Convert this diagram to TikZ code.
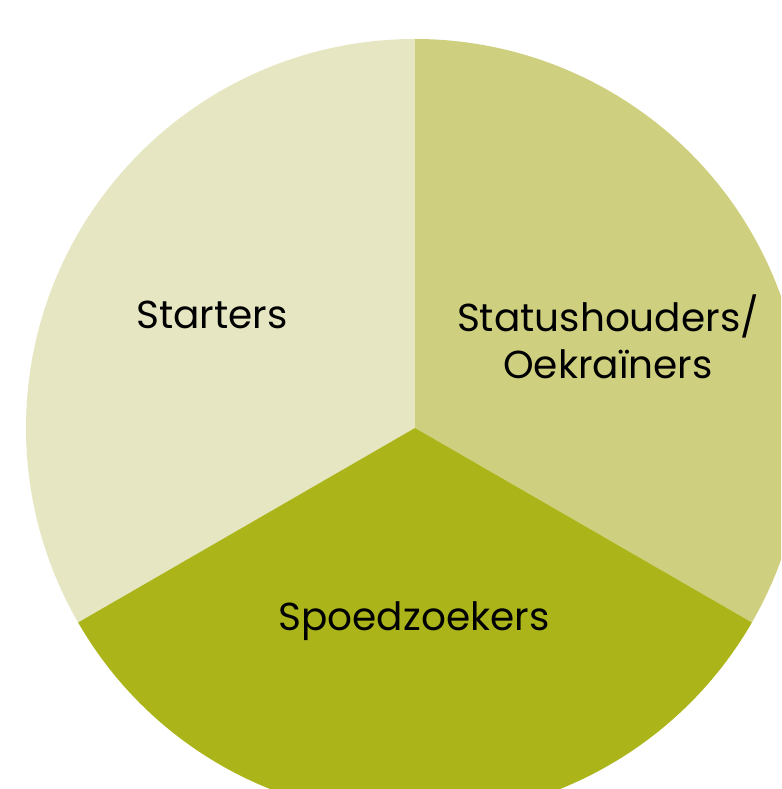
\documentclass[tikz,border=0pt]{standalone}
\usepackage{fontspec}
\setmainfont{Poppins}
\usetikzlibrary{calc}
\definecolor{startcol}{HTML}{E6E7C2}
\definecolor{statuscol}{HTML}{CFD07F}
\definecolor{spoedcol}{HTML}{ABB51A}
\newcommand\pieslice[3]{
  \fill[#3] (c) -- ($ (c) + (#1:389pt) $) arc[start angle=#1, end angle=#2, radius=389pt] -- cycle;
}
\begin{document}
\begin{tikzpicture}[x=1pt,y=1pt,
    lbl/.style={font=\fontsize{39}{47}\selectfont, align=center, text=black}]
      \useasboundingbox (0,0) rectangle (781,789);
      \clip (0,0) rectangle (781,789);
      \coordinate (c) at (415,361);

      \pieslice{90}{210}{startcol}
      \pieslice{-30}{90}{statuscol}
      \pieslice{210}{330}{spoedcol}

      \node[lbl] (starters) at (212,474) {Starters};
      \node[lbl] (status) at (608,452) {Statushouders/\\Oekraïners};
      \node[lbl] (spoed) at (414,168) {Spoedzoekers};
    \end{tikzpicture}
\end{document}
